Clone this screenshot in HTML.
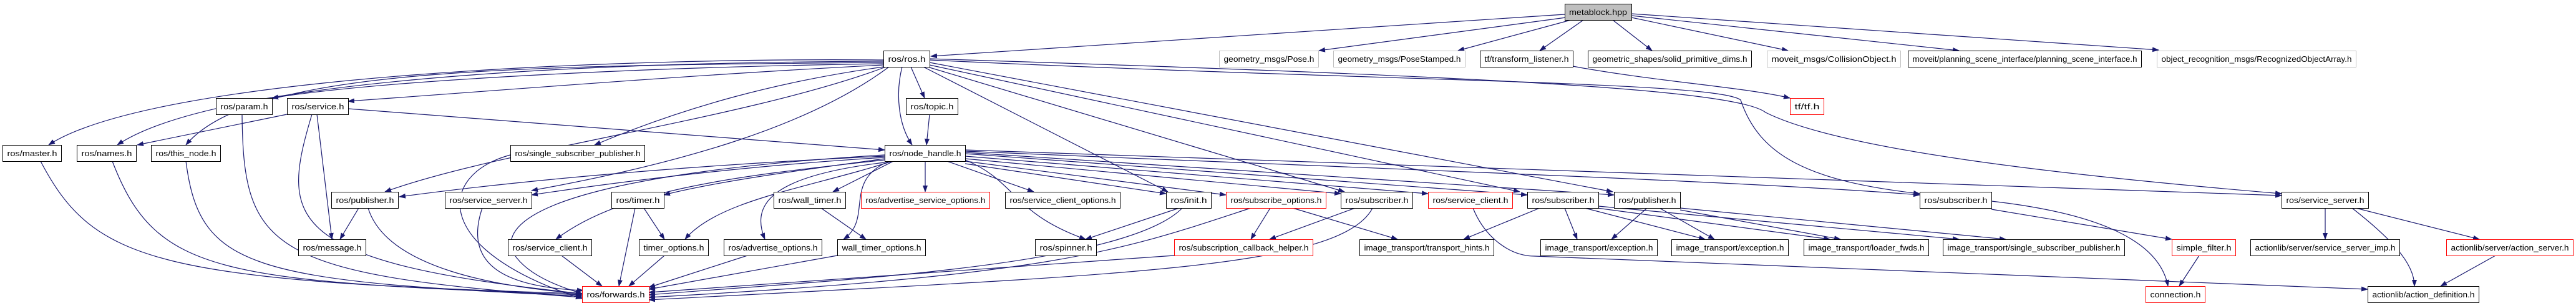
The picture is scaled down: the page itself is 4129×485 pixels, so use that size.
<!DOCTYPE html>
<html><head><meta charset="utf-8"><style>
html,body{margin:0;padding:0;background:#fff;}
svg{display:block;}
text{font-family:"Liberation Sans",sans-serif;font-size:13px;fill:#000;}
.e{fill:none;stroke:#191970;stroke-width:1.2;marker-end:url(#a);}
</style></head><body>
<svg width="4129" height="485" viewBox="0 0 4129 485" xmlns="http://www.w3.org/2000/svg">
<defs><marker id="a" markerUnits="userSpaceOnUse" markerWidth="11" markerHeight="8" refX="10" refY="4" orient="auto"><path d="M0,0 L11,4 L0,8 z" fill="#191970"/></marker></defs>
<g>
<path class="e" d="M2508,23 L1492,90"/>
<path class="e" d="M2510,28 L2114,81"/>
<path class="e" d="M2518,32 L2337,81"/>
<path class="e" d="M2538,32 L2468,81"/>
<path class="e" d="M2585,32 L2648,81"/>
<path class="e" d="M2615,28 L2866,81"/>
<path class="e" d="M2615,25 L3140,81"/>
<path class="e" d="M2615,22 L3460,80"/>
<path class="e" d="M2521,106 C2650,130 2800,140 2869,157"/>
<path class="e" d="M1416,96 C1000,92 250,120 78,232"/>
<path class="e" d="M1416,98 C900,100 340,130 188,232"/>
<path class="e" d="M1416,100 C800,105 400,110 298,232"/>
<path class="e" d="M1416,102 C1000,108 600,130 436,157"/>
<path class="e" d="M1416,104 C1100,120 800,145 558,162"/>
<path class="e" d="M1416,107 C1250,130 1100,170 953,232"/>
<path class="e" d="M1420,107 C1200,190 800,240 617,307"/>
<path class="e" d="M1425,107 C1300,200 1100,260 852,305"/>
<path class="e" d="M1446,107 C1435,150 1440,200 1462,232"/>
<path class="e" d="M1460,107 L1482,157"/>
<path class="e" d="M1480,107 L1872,307"/>
<path class="e" d="M1490,108 L2155,307"/>
<path class="e" d="M1490,104 L2436,307"/>
<path class="e" d="M1490,100 L2585,307"/>
<path class="e" d="M1490,96 C2200,130 2750,130 2790,160 C2820,250 2900,290 3077,310"/>
<path class="e" d="M1490,94 C2300,120 2780,140 2830,180 C2950,240 3300,280 3657,310"/>
<path class="e" d="M460,183 L220,232"/>
<path class="e" d="M508,183 L532,383"/>
<path class="e" d="M500,183 C450,350 450,420 933,470"/>
<path class="e" d="M558,174 L1418,240"/>
<path class="e" d="M1490,183 L1485,232"/>
<path class="e" d="M65,258 C150,420 250,450 933,470"/>
<path class="e" d="M180,258 C250,440 350,450 933,472"/>
<path class="e" d="M298,258 C320,430 400,450 933,474"/>
<path class="e" d="M388,183 C390,400 430,440 933,476"/>
<path class="e" d="M818,248 C700,280 690,400 933,478"/>
<path class="e" d="M575,333 L545,383"/>
<path class="e" d="M590,333 C620,430 800,460 933,470"/>
<path class="e" d="M773,333 C740,430 820,460 935,465"/>
<path class="e" d="M1018,333 L992,458"/>
<path class="e" d="M1032,333 L1065,383"/>
<path class="e" d="M900,409 L965,458"/>
<path class="e" d="M1065,409 L1008,458"/>
<path class="e" d="M1198,409 L1040,460"/>
<path class="e" d="M1342,409 L1040,463"/>
<path class="e" d="M1316,333 L1388,383"/>
<path class="e" d="M1418,250 C1200,260 900,280 640,315"/>
<path class="e" d="M1418,252 C1200,265 1000,290 852,312"/>
<path class="e" d="M1418,254 C1300,270 1150,290 1064,312"/>
<path class="e" d="M1432,258 L1335,307"/>
<path class="e" d="M1483,258 L1483,307"/>
<path class="e" d="M1518,258 L1657,307"/>
<path class="e" d="M1547,262 L1869,310"/>
<path class="e" d="M1547,258 L1965,312"/>
<path class="e" d="M1547,254 L2149,310"/>
<path class="e" d="M1547,250 L2289,310"/>
<path class="e" d="M1547,246 L2448,312"/>
<path class="e" d="M1547,244 L2587,312"/>
<path class="e" d="M1547,242 C2200,270 2800,290 3077,312"/>
<path class="e" d="M1547,240 C2300,270 3000,290 3657,313"/>
<path class="e" d="M1418,256 C1200,280 1000,300 891,383"/>
<path class="e" d="M1430,258 C1300,300 1150,320 1098,383"/>
<path class="e" d="M1418,260 C1250,280 1200,320 1226,383"/>
<path class="e" d="M1425,258 C1350,290 1400,350 1352,383"/>
<path class="e" d="M1547,256 C1630,290 1620,340 1740,383"/>
<path class="e" d="M1418,248 C1050,270 800,320 820,400 C840,440 900,460 933,470"/>
<path class="e" d="M1890,333 L1740,383"/>
<path class="e" d="M1895,333 C1800,430 1300,450 1040,472"/>
<path class="e" d="M2036,333 L2005,383"/>
<path class="e" d="M2072,333 L2240,383"/>
<path class="e" d="M2005,333 C1800,400 1700,440 1040,476"/>
<path class="e" d="M2172,333 L2035,383"/>
<path class="e" d="M2200,333 C2150,430 1800,440 1040,480"/>
<path class="e" d="M1882,409 L1040,468"/>
<path class="e" d="M2361,333 C2380,380 2420,410 2460,410 C3000,430 3500,450 3795,463"/>
<path class="e" d="M2468,333 L2346,383"/>
<path class="e" d="M2508,333 L2528,383"/>
<path class="e" d="M2540,333 L2733,383"/>
<path class="e" d="M2560,333 L2933,383"/>
<path class="e" d="M2640,333 L2583,383"/>
<path class="e" d="M2660,333 L2748,383"/>
<path class="e" d="M2693,336 L2950,383"/>
<path class="e" d="M2693,333 L3215,383"/>
<path class="e" d="M2562,330 L3140,383"/>
<path class="e" d="M3192,335 L3481,383"/>
<path class="e" d="M3192,322 C3350,340 3460,380 3475,458"/>
<path class="e" d="M3525,409 L3493,458"/>
<path class="e" d="M3727,333 L3727,383"/>
<path class="e" d="M3770,333 C3830,380 3870,420 3870,458"/>
<path class="e" d="M3776,333 L3974,383"/>
<path class="e" d="M4000,409 L3912,458"/>
</g>
<g id="nodes">
<!-- helper: each node = rect + bottom shadow + text -->
</g>
<g stroke-width="1">
<rect x="2508.5" y="6.5" width="107" height="26" fill="#bfbfbf" stroke="#000"/><text x="2561.5" y="24" text-anchor="middle" textLength="93" lengthAdjust="spacingAndGlyphs">metablock.hpp</text>
<rect x="1416.5" y="81.5" width="74" height="26" fill="#fff" stroke="#000"/><text x="1453.5" y="99" text-anchor="middle" textLength="60" lengthAdjust="spacingAndGlyphs">ros/ros.h</text>
<rect x="1954.5" y="81.5" width="159" height="26" fill="#fff" stroke="#bfbfbf"/><text x="2034" y="99" text-anchor="middle" textLength="145" lengthAdjust="spacingAndGlyphs">geometry_msgs/Pose.h</text>
<rect x="2137.5" y="81.5" width="211" height="26" fill="#fff" stroke="#bfbfbf"/><text x="2243" y="99" text-anchor="middle" textLength="197" lengthAdjust="spacingAndGlyphs">geometry_msgs/PoseStamped.h</text>
<rect x="2372.5" y="81.5" width="149" height="26" fill="#fff" stroke="#000"/><text x="2447" y="99" text-anchor="middle" textLength="135" lengthAdjust="spacingAndGlyphs">tf/transform_listener.h</text>
<rect x="2545.5" y="81.5" width="262" height="26" fill="#fff" stroke="#000"/><text x="2676.5" y="99" text-anchor="middle" textLength="248" lengthAdjust="spacingAndGlyphs">geometric_shapes/solid_primitive_dims.h</text>
<rect x="2832.5" y="81.5" width="214" height="26" fill="#fff" stroke="#bfbfbf"/><text x="2939.5" y="99" text-anchor="middle" textLength="200" lengthAdjust="spacingAndGlyphs">moveit_msgs/CollisionObject.h</text>
<rect x="3058.5" y="81.5" width="374" height="26" fill="#fff" stroke="#000"/><text x="3245.5" y="99" text-anchor="middle" textLength="360" lengthAdjust="spacingAndGlyphs">moveit/planning_scene_interface/planning_scene_interface.h</text>
<rect x="3457.5" y="81.5" width="319" height="26" fill="#fff" stroke="#bfbfbf"/><text x="3617" y="99" text-anchor="middle" textLength="305" lengthAdjust="spacingAndGlyphs">object_recognition_msgs/RecognizedObjectArray.h</text>
<rect x="346.5" y="157.5" width="90" height="26" fill="#fff" stroke="#000"/><text x="391.5" y="175" text-anchor="middle" textLength="76" lengthAdjust="spacingAndGlyphs">ros/param.h</text>
<rect x="460.5" y="157.5" width="98" height="26" fill="#fff" stroke="#000"/><text x="509.5" y="175" text-anchor="middle" textLength="84" lengthAdjust="spacingAndGlyphs">ros/service.h</text>
<rect x="1452.5" y="157.5" width="83" height="26" fill="#fff" stroke="#000"/><text x="1494" y="175" text-anchor="middle" textLength="69" lengthAdjust="spacingAndGlyphs">ros/topic.h</text>
<rect x="2869.5" y="157.5" width="54" height="26" fill="#fff" stroke="#f00"/><text x="2896.5" y="175" text-anchor="middle" textLength="40" lengthAdjust="spacingAndGlyphs">tf/tf.h</text>
<rect x="4.5" y="232.5" width="94" height="26" fill="#fff" stroke="#000"/><text x="51.5" y="250" text-anchor="middle" textLength="80" lengthAdjust="spacingAndGlyphs">ros/master.h</text>
<rect x="123.5" y="232.5" width="95" height="26" fill="#fff" stroke="#000"/><text x="171" y="250" text-anchor="middle" textLength="81" lengthAdjust="spacingAndGlyphs">ros/names.h</text>
<rect x="242.5" y="232.5" width="111" height="26" fill="#fff" stroke="#000"/><text x="298" y="250" text-anchor="middle" textLength="97" lengthAdjust="spacingAndGlyphs">ros/this_node.h</text>
<rect x="818.5" y="232.5" width="215" height="26" fill="#fff" stroke="#000"/><text x="926" y="250" text-anchor="middle" textLength="201" lengthAdjust="spacingAndGlyphs">ros/single_subscriber_publisher.h</text>
<rect x="1418.5" y="232.5" width="129" height="26" fill="#fff" stroke="#000"/><text x="1483" y="250" text-anchor="middle" textLength="115" lengthAdjust="spacingAndGlyphs">ros/node_handle.h</text>
<rect x="531.5" y="307.5" width="107" height="26" fill="#fff" stroke="#000"/><text x="585" y="325" text-anchor="middle" textLength="93" lengthAdjust="spacingAndGlyphs">ros/publisher.h</text>
<rect x="713.5" y="307.5" width="139" height="26" fill="#fff" stroke="#000"/><text x="783" y="325" text-anchor="middle" textLength="125" lengthAdjust="spacingAndGlyphs">ros/service_server.h</text>
<rect x="980.5" y="307.5" width="84" height="26" fill="#fff" stroke="#000"/><text x="1022.5" y="325" text-anchor="middle" textLength="70" lengthAdjust="spacingAndGlyphs">ros/timer.h</text>
<rect x="1240.5" y="307.5" width="115" height="26" fill="#fff" stroke="#000"/><text x="1298" y="325" text-anchor="middle" textLength="101" lengthAdjust="spacingAndGlyphs">ros/wall_timer.h</text>
<rect x="1380.5" y="307.5" width="206" height="26" fill="#fff" stroke="#f00"/><text x="1483.5" y="325" text-anchor="middle" textLength="192" lengthAdjust="spacingAndGlyphs">ros/advertise_service_options.h</text>
<rect x="1611.5" y="307.5" width="184" height="26" fill="#fff" stroke="#000"/><text x="1703.5" y="325" text-anchor="middle" textLength="170" lengthAdjust="spacingAndGlyphs">ros/service_client_options.h</text>
<rect x="1869.5" y="307.5" width="72" height="26" fill="#fff" stroke="#000"/><text x="1905.5" y="325" text-anchor="middle" textLength="58" lengthAdjust="spacingAndGlyphs">ros/init.h</text>
<rect x="1965.5" y="307.5" width="160" height="26" fill="#fff" stroke="#f00"/><text x="2045.5" y="325" text-anchor="middle" textLength="146" lengthAdjust="spacingAndGlyphs">ros/subscribe_options.h</text>
<rect x="2149.5" y="307.5" width="115" height="26" fill="#fff" stroke="#000"/><text x="2207" y="325" text-anchor="middle" textLength="101" lengthAdjust="spacingAndGlyphs">ros/subscriber.h</text>
<rect x="2289.5" y="307.5" width="135" height="26" fill="#fff" stroke="#f00"/><text x="2357" y="325" text-anchor="middle" textLength="121" lengthAdjust="spacingAndGlyphs">ros/service_client.h</text>
<rect x="2448.5" y="307.5" width="114" height="26" fill="#fff" stroke="#000"/><text x="2505.5" y="325" text-anchor="middle" textLength="100" lengthAdjust="spacingAndGlyphs">ros/subscriber.h</text>
<rect x="2587.5" y="307.5" width="106" height="26" fill="#fff" stroke="#000"/><text x="2640.5" y="325" text-anchor="middle" textLength="92" lengthAdjust="spacingAndGlyphs">ros/publisher.h</text>
<rect x="3077.5" y="307.5" width="115" height="26" fill="#fff" stroke="#000"/><text x="3135" y="325" text-anchor="middle" textLength="101" lengthAdjust="spacingAndGlyphs">ros/subscriber.h</text>
<rect x="3657.5" y="307.5" width="139" height="26" fill="#fff" stroke="#000"/><text x="3727" y="325" text-anchor="middle" textLength="125" lengthAdjust="spacingAndGlyphs">ros/service_server.h</text>
<rect x="478.5" y="383.5" width="108" height="26" fill="#fff" stroke="#000"/><text x="532.5" y="401" text-anchor="middle" textLength="94" lengthAdjust="spacingAndGlyphs">ros/message.h</text>
<rect x="814.5" y="383.5" width="134" height="26" fill="#fff" stroke="#000"/><text x="881.5" y="401" text-anchor="middle" textLength="120" lengthAdjust="spacingAndGlyphs">ros/service_client.h</text>
<rect x="1024.5" y="383.5" width="111" height="26" fill="#fff" stroke="#000"/><text x="1080" y="401" text-anchor="middle" textLength="97" lengthAdjust="spacingAndGlyphs">timer_options.h</text>
<rect x="1160.5" y="383.5" width="157" height="26" fill="#fff" stroke="#000"/><text x="1239" y="401" text-anchor="middle" textLength="143" lengthAdjust="spacingAndGlyphs">ros/advertise_options.h</text>
<rect x="1342.5" y="383.5" width="141" height="26" fill="#fff" stroke="#000"/><text x="1413" y="401" text-anchor="middle" textLength="127" lengthAdjust="spacingAndGlyphs">wall_timer_options.h</text>
<rect x="1659.5" y="383.5" width="98" height="26" fill="#fff" stroke="#000"/><text x="1708.5" y="401" text-anchor="middle" textLength="84" lengthAdjust="spacingAndGlyphs">ros/spinner.h</text>
<rect x="1882.5" y="383.5" width="222" height="26" fill="#fff" stroke="#f00"/><text x="1993.5" y="401" text-anchor="middle" textLength="208" lengthAdjust="spacingAndGlyphs">ros/subscription_callback_helper.h</text>
<rect x="2179.5" y="383.5" width="215" height="26" fill="#fff" stroke="#000"/><text x="2287" y="401" text-anchor="middle" textLength="201" lengthAdjust="spacingAndGlyphs">image_transport/transport_hints.h</text>
<rect x="2469.5" y="383.5" width="187" height="26" fill="#fff" stroke="#000"/><text x="2563" y="401" text-anchor="middle" textLength="173" lengthAdjust="spacingAndGlyphs">image_transport/exception.h</text>
<rect x="2679.5" y="383.5" width="187" height="26" fill="#fff" stroke="#000"/><text x="2773" y="401" text-anchor="middle" textLength="173" lengthAdjust="spacingAndGlyphs">image_transport/exception.h</text>
<rect x="2891.5" y="383.5" width="200" height="26" fill="#fff" stroke="#000"/><text x="2991.5" y="401" text-anchor="middle" textLength="186" lengthAdjust="spacingAndGlyphs">image_transport/loader_fwds.h</text>
<rect x="3114.5" y="383.5" width="291" height="26" fill="#fff" stroke="#000"/><text x="3260" y="401" text-anchor="middle" textLength="277" lengthAdjust="spacingAndGlyphs">image_transport/single_subscriber_publisher.h</text>
<rect x="3481.5" y="383.5" width="102" height="26" fill="#fff" stroke="#f00"/><text x="3532.5" y="401" text-anchor="middle" textLength="88" lengthAdjust="spacingAndGlyphs">simple_filter.h</text>
<rect x="3607.5" y="383.5" width="239" height="26" fill="#fff" stroke="#000"/><text x="3727" y="401" text-anchor="middle" textLength="225" lengthAdjust="spacingAndGlyphs">actionlib/server/service_server_imp.h</text>
<rect x="3921.5" y="383.5" width="203" height="26" fill="#fff" stroke="#f00"/><text x="4023" y="401" text-anchor="middle" textLength="189" lengthAdjust="spacingAndGlyphs">actionlib/server/action_server.h</text>
<rect x="933.5" y="458.5" width="107" height="26" fill="#fff" stroke="#f00"/><text x="987" y="476" text-anchor="middle" textLength="93" lengthAdjust="spacingAndGlyphs">ros/forwards.h</text>
<rect x="3439.5" y="458.5" width="95" height="26" fill="#fff" stroke="#f00"/><text x="3487" y="476" text-anchor="middle" textLength="81" lengthAdjust="spacingAndGlyphs">connection.h</text>
<rect x="3795.5" y="458.5" width="178" height="26" fill="#fff" stroke="#000"/><text x="3884.5" y="476" text-anchor="middle" textLength="164" lengthAdjust="spacingAndGlyphs">actionlib/action_definition.h</text>
</g>
</svg>
</body></html>
